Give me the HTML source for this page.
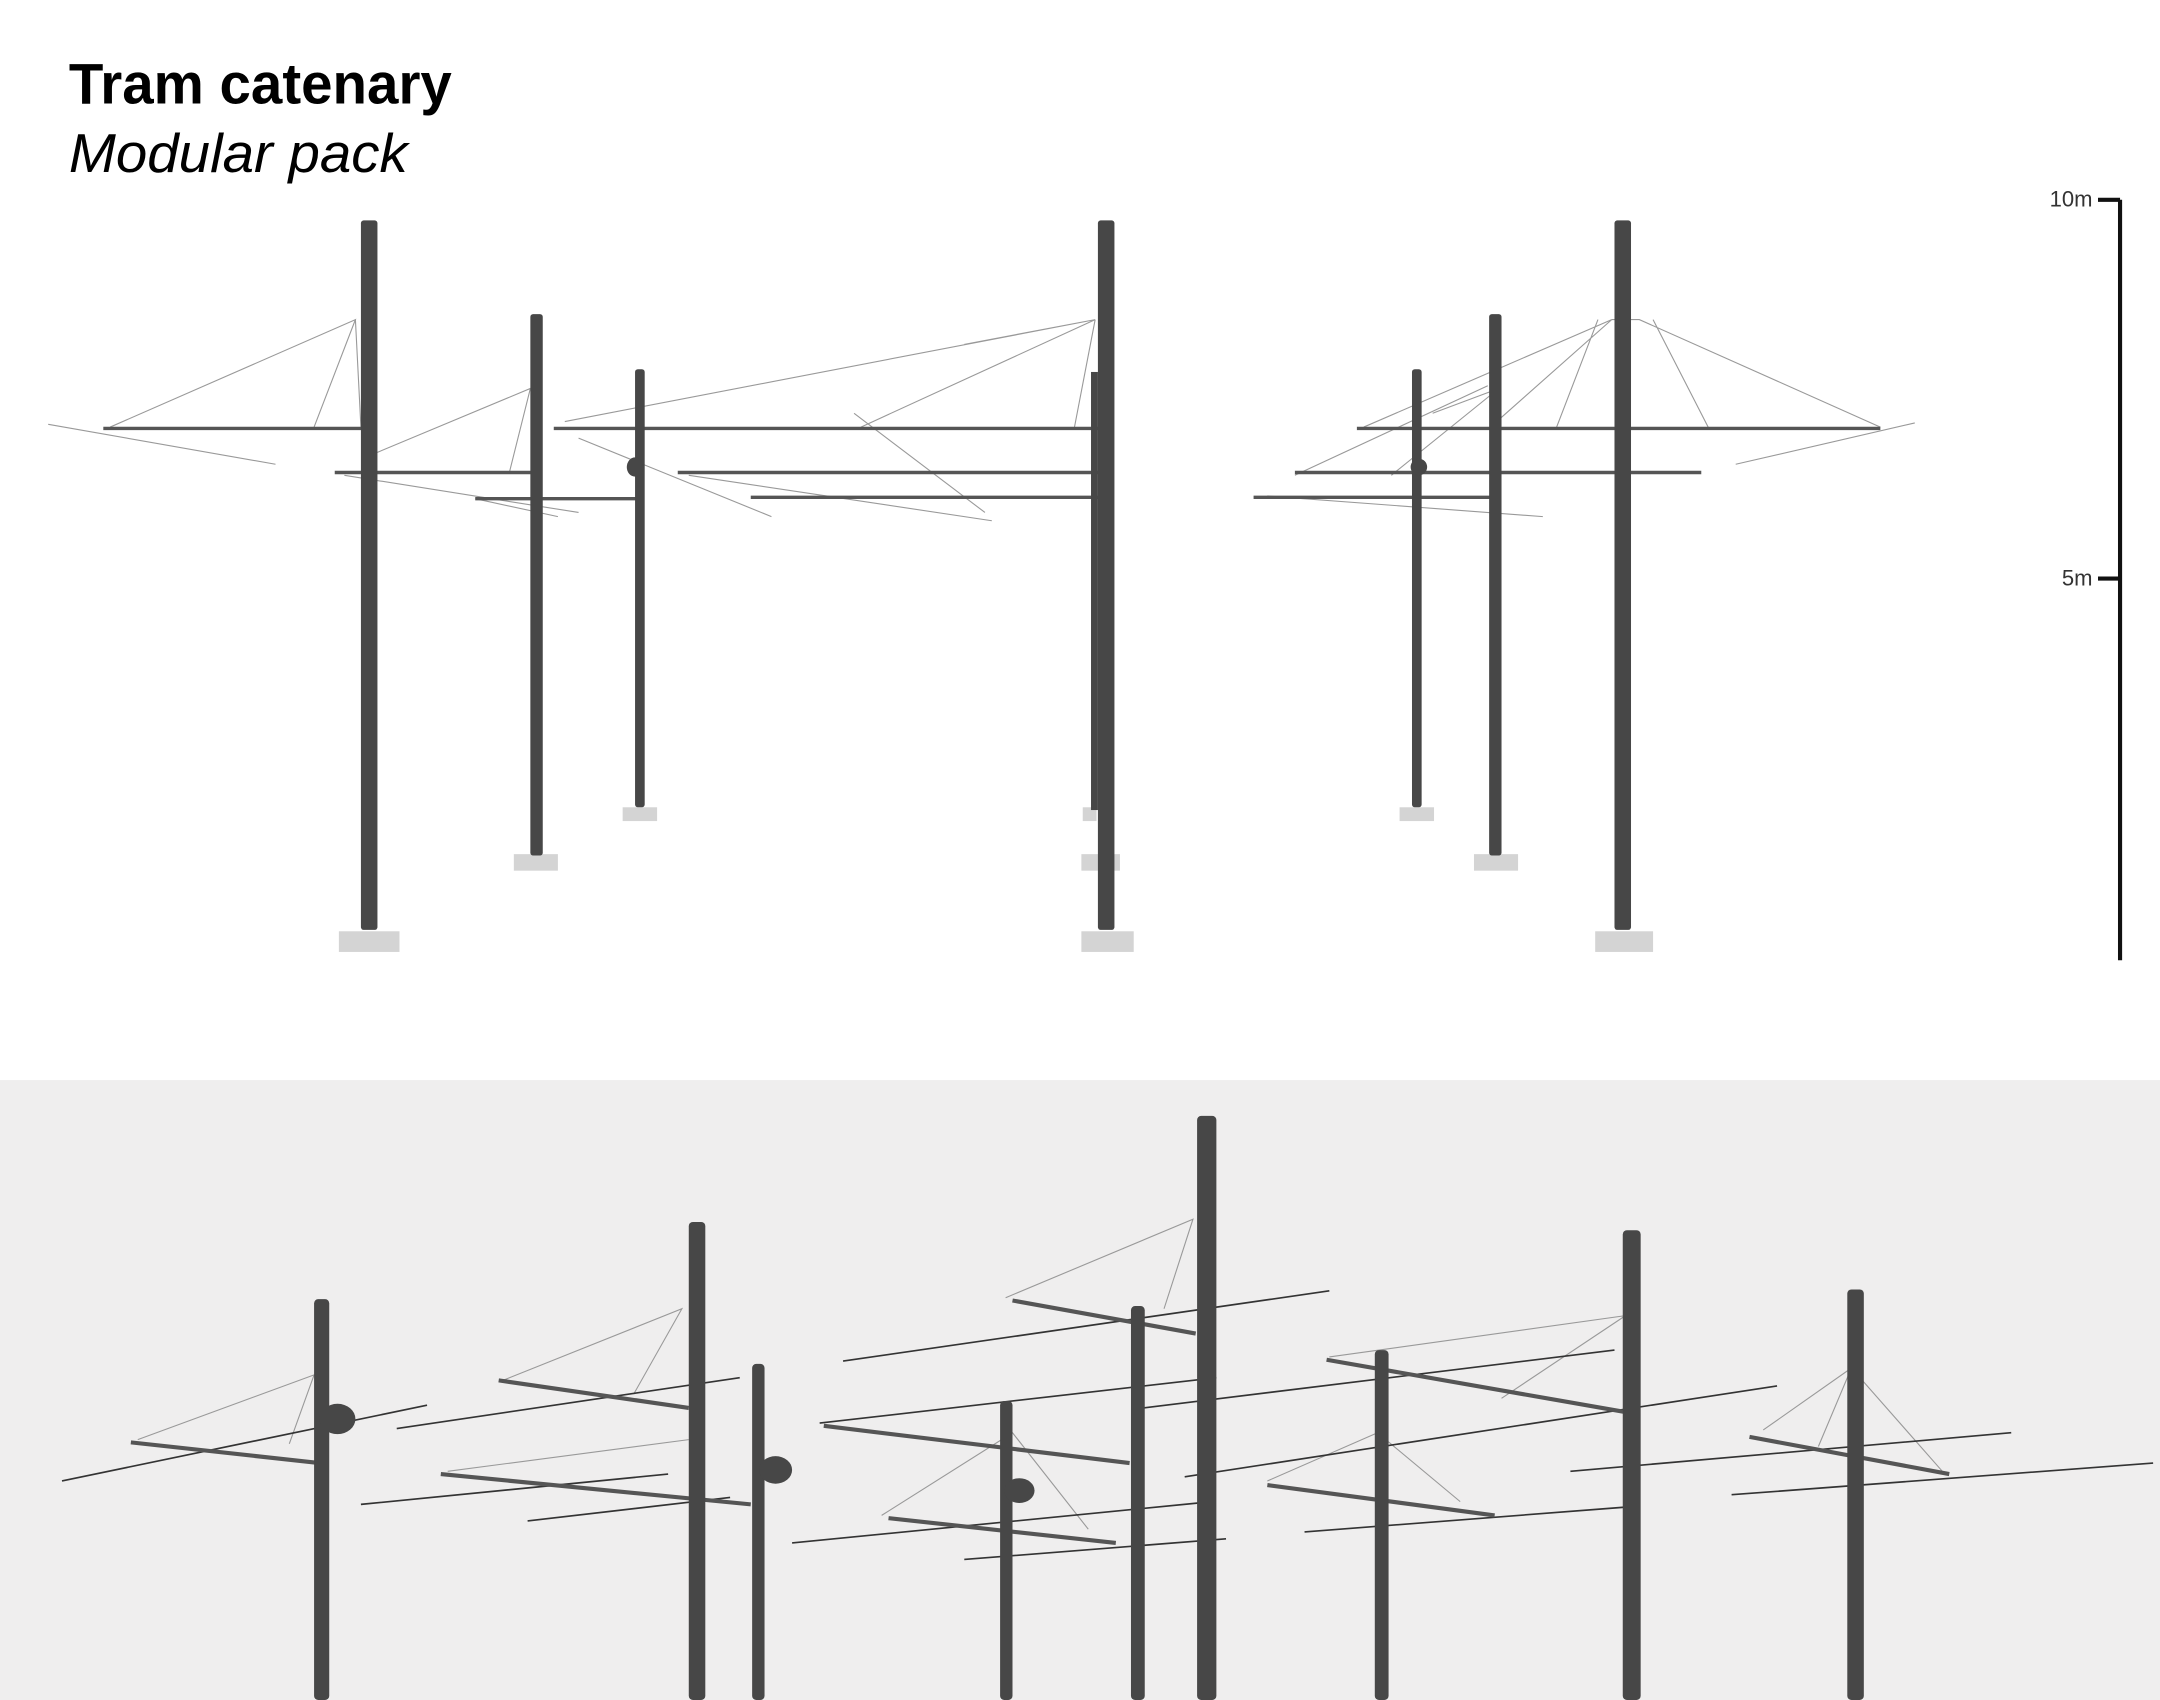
<!DOCTYPE html>
<html><head><meta charset="utf-8"><style>html,body{margin:0;padding:0;background:#fff}svg{display:block}</style></head>
<body>
<svg width="2160" height="1700" viewBox="0 0 1568 1234" preserveAspectRatio="none" xmlns="http://www.w3.org/2000/svg">
<rect width="1568" height="1234" fill="#fff"/>
<rect y="784" width="1568" height="450" fill="#efeeee"/>
<text x="50" y="75" font-family="Liberation Sans, sans-serif" font-weight="bold" font-size="42" textLength="278" lengthAdjust="spacingAndGlyphs">Tram catenary</text>
<text x="50" y="125" font-family="Liberation Sans, sans-serif" font-style="italic" font-size="40" textLength="246" lengthAdjust="spacingAndGlyphs">Modular pack</text>
<!-- scale -->
<g stroke="#111" stroke-width="3" fill="none"><path d="M1539 145V697M1523 145H1539M1523 420H1539"/></g>
<text x="1519" y="150" text-anchor="end" font-family="Liberation Sans, sans-serif" font-size="16" fill="#333">10m</text>
<text x="1519" y="425" text-anchor="end" font-family="Liberation Sans, sans-serif" font-size="16" fill="#333">5m</text>
<!-- top wires -->
<g stroke="#999" stroke-width="0.8" fill="none">
<path d="M80 310L258 232L228 310M258 232L262 310M35 308L200 337"/>
<path d="M270 330L385 282L370 342M250 345L420 372M345 362L405 375"/>
<path d="M410 306L795 232L625 310M700 250L795 232M780 310L795 232M420 318L560 375M500 345L720 378M620 300L715 372"/>
<path d="M990 310L1170 232L1082 310M1170 232L1190 232L1365 310M1200 232L1240 310M1130 310L1160 232M1390 307L1260 337M1040 300L1088 282L1010 345M920 360L1120 375M940 345L1080 280"/>
</g>
<!-- top arms -->
<g stroke="#555" stroke-width="2.5" fill="none">
<path d="M75 311H268M243 343H389M345 362H464M402 311H803M492 343H803M545 361H803M985 311H1200L1365 311M940 343H1235M910 361H1085"/>
</g>
<!-- top bases -->
<g fill="#d4d4d4">
<rect x="246" y="676" width="44" height="15"/><rect x="785" y="676" width="38" height="15"/><rect x="1158" y="676" width="42" height="15"/>
<rect x="373" y="620" width="32" height="12"/><rect x="1070" y="620" width="32" height="12"/><rect x="785" y="620" width="28" height="12"/>
<rect x="452" y="586" width="25" height="10"/><rect x="1016" y="586" width="25" height="10"/><rect x="786" y="586" width="10" height="10"/>
</g>
<!-- top poles -->
<g fill="#474747">
<rect x="262" y="160" width="12" height="515" rx="2"/>
<rect x="797" y="160" width="12" height="515" rx="2"/>
<rect x="1172" y="160" width="12" height="515" rx="2"/>
<rect x="385" y="228" width="9" height="393" rx="2"/>
<rect x="1081" y="228" width="9" height="393" rx="2"/>
<rect x="461" y="268" width="7" height="318" rx="2"/>
<rect x="1025" y="268" width="7" height="318" rx="2"/>
<rect x="792" y="270" width="5" height="318"/>
<ellipse cx="461" cy="339" rx="6" ry="7"/><ellipse cx="1030" cy="339" rx="6" ry="6"/>
</g>
<!-- bottom wires -->
<g stroke="#999" stroke-width="0.8" fill="none">
<path d="M100 1045L228 998L210 1048M365 1002L495 950L460 1012M325 1068L500 1045M730 942L866 885L845 950M640 1100L735 1040L790 1110M965 985L1180 955L1090 1015M920 1075L1000 1040L1060 1090M1280 1038L1344 993L1410 1068M1344 993L1320 1050"/>
</g>
<g stroke="#333" stroke-width="1.2" fill="none">
<path d="M45 1075L310 1020M288 1037L537 1000M262 1092L485 1070M383 1104L530 1087M612 988L965 937M595 1033L883 1000M575 1120L880 1090M700 1132L890 1117M830 1022L1172 980M860 1072L1290 1006M947 1112L1180 1094M1140 1068L1460 1040M1257 1085L1563 1062"/>
</g>
<g stroke="#555" stroke-width="3" fill="none">
<path d="M95 1047L232 1062M362 1002L500 1022M320 1070L545 1092M735 944L868 968M598 1035L820 1062M645 1102L810 1120M963 987L1180 1025M920 1078L1085 1100M1270 1043L1415 1070"/>
</g>
<!-- bottom poles -->
<g fill="#474747">
<rect x="228" y="943" width="11" height="291" rx="3"/>
<rect x="500" y="887" width="12" height="347" rx="3"/>
<rect x="546" y="990" width="9" height="244" rx="3"/>
<rect x="726" y="1017" width="9" height="217" rx="3"/>
<rect x="821" y="948" width="10" height="286" rx="3"/>
<rect x="869" y="810" width="14" height="424" rx="3"/>
<rect x="998" y="980" width="10" height="254" rx="3"/>
<rect x="1178" y="893" width="13" height="341" rx="3"/>
<rect x="1341" y="936" width="12" height="298" rx="3"/>
<ellipse cx="245" cy="1030" rx="13" ry="11"/><ellipse cx="563" cy="1067" rx="12" ry="10"/><ellipse cx="740" cy="1082" rx="11" ry="9"/>
</g>
</svg>
</body></html>
